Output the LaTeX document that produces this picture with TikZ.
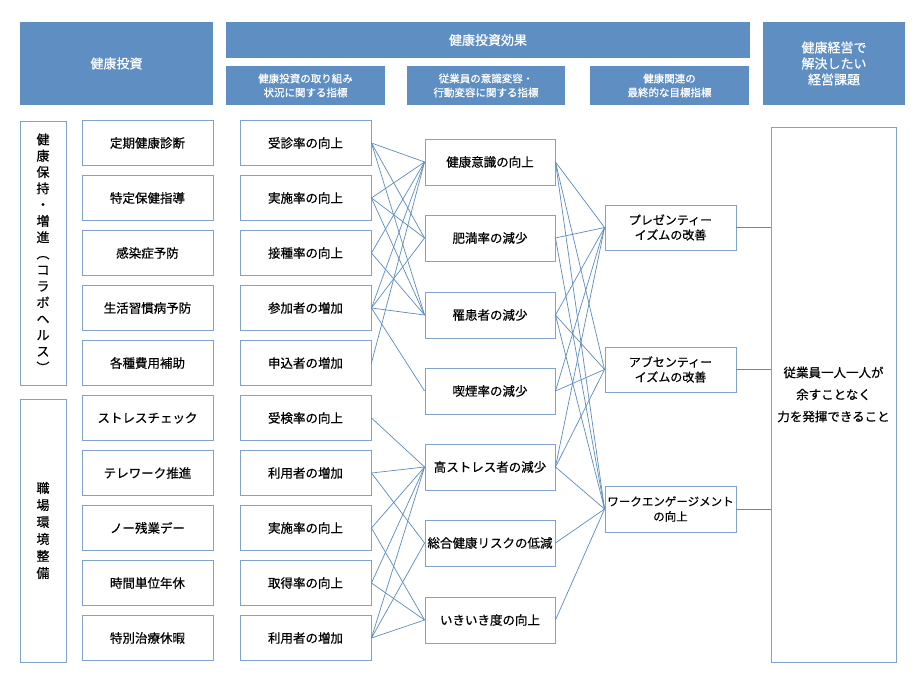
\documentclass[tikz,border=0pt]{standalone}
\usepackage{fontspec}
\setmainfont[FakeBold=0.5]{Noto Sans CJK JP}
\begin{document}
\begin{tikzpicture}[x=1pt,y=-1pt,
 hdr/.style={fill=hb,draw=none,text=white,align=center,font=\fontsize{13}{16}\selectfont},
 sub/.style={fill=hb,draw=none,text=white,align=center,font=\fontsize{10.5}{14}\selectfont},
 bx/.style={draw=bd,line width=0.9pt,fill=white,align=center,font=\fontsize{12.5}{16}\selectfont},
 ln/.style={draw=lc,line width=0.7pt}]
\definecolor{hb}{HTML}{5F8FC2}
\definecolor{bd}{HTML}{7FA3CC}
\definecolor{lc}{HTML}{5B8BC0}
\useasboundingbox (0,0) rectangle (920,682);
% headers
\node[hdr,minimum width=193,minimum height=83] (h1) at (116.5,63.5) {健康投資};
\node[hdr,minimum width=524,minimum height=36] (h2) at (488,40) {健康投資効果};
\node[sub,minimum width=159,minimum height=39] (s1) at (305.5,85.5) {健康投資の取り組み\\状況に関する指標};
\node[sub,minimum width=158,minimum height=39] (s2) at (486,85.5) {従業員の意識変容・\\行動変容に関する指標};
\node[sub,minimum width=159,minimum height=39] (s3) at (669.5,85.5) {健康関連の\\最終的な目標指標};
\node[hdr,minimum width=142,minimum height=83] (h3) at (834,63.5) {健康経営で\\解決したい\\経営課題};
% categories
\node[bx,minimum width=46,minimum height=264,font=\fontsize{13}{16.3}\selectfont] (c1) at (43,253) {健\\康\\保\\持\\・\\増\\進\\︵\\コ\\ラ\\ボ\\ヘ\\ル\\ス\\︶};
\node[bx,minimum width=46,minimum height=263,font=\fontsize{13}{17}\selectfont] (c2) at (43,530.5) {職\\場\\環\\境\\整\\備};
% column A and B
\foreach \t [count=\i] in {定期健康診断,特定保健指導,感染症予防,生活習慣病予防,各種費用補助,ストレスチェック,テレワーク推進,ノー残業デー,時間単位年休,特別治療休暇}
  \node[bx,minimum width=131,minimum height=45] (a\i) at (147.5,88+55*\i) {\t};
\foreach \t [count=\i] in {受診率の向上,実施率の向上,接種率の向上,参加者の増加,申込者の増加,受検率の向上,利用者の増加,実施率の向上,取得率の向上,利用者の増加}
  \node[bx,minimum width=131,minimum height=45] (b\i) at (305.5,88+55*\i) {\t};
% column C
\foreach \t/\y [count=\i] in {健康意識の向上/162,肥満率の減少/238,罹患者の減少/315,喫煙率の減少/391,高ストレス者の減少/467,総合健康リスクの低減/543,いきいき度の向上/620}
  \node[bx,minimum width=130,minimum height=46,inner xsep=1pt] (k\i) at (490,\y) {\t};
% column D
\node[bx,minimum width=131,minimum height=45,font=\fontsize{12}{15}\selectfont] (d1) at (670.5,227.5) {プレゼンティー\\イズムの改善};
\node[bx,minimum width=131,minimum height=45,font=\fontsize{12}{15}\selectfont] (d2) at (670.5,369.5) {アブセンティー\\イズムの改善};
\node[bx,minimum width=131,minimum height=46,inner xsep=1pt,font=\fontsize{11.5}{15}\selectfont] (d3) at (670.5,509) {ワークエンゲージメント\\の向上};
% column E
\node[bx,minimum width=125,minimum height=535,font=\fontsize{12.5}{22}\selectfont] (e) at (833.5,394.5) {従業員一人一人が\\余すことなく\\力を発揮できること};
% connectors B -> C
\foreach \s/\t in {1/1,1/2,1/3,2/1,2/2,2/3,3/1,3/3,4/1,4/2,4/3,4/4,5/1,6/5,7/5,7/6,8/5,8/7,9/5,9/7,10/5,10/6,10/7}
  \draw[ln] (b\s.east) -- (k\t.west);
% C -> D
\foreach \s/\t in {1/1,1/2,1/3,2/1,2/3,3/1,3/2,3/3,4/1,4/2,5/1,5/2,5/3,6/3,7/3}
  \draw[ln] (k\s.east) -- (d\t.west);
% D -> E
\foreach \s in {1,2,3}
  \draw[ln] (d\s.east) -- (d\s.east -| e.west);
\end{tikzpicture}
\end{document}
